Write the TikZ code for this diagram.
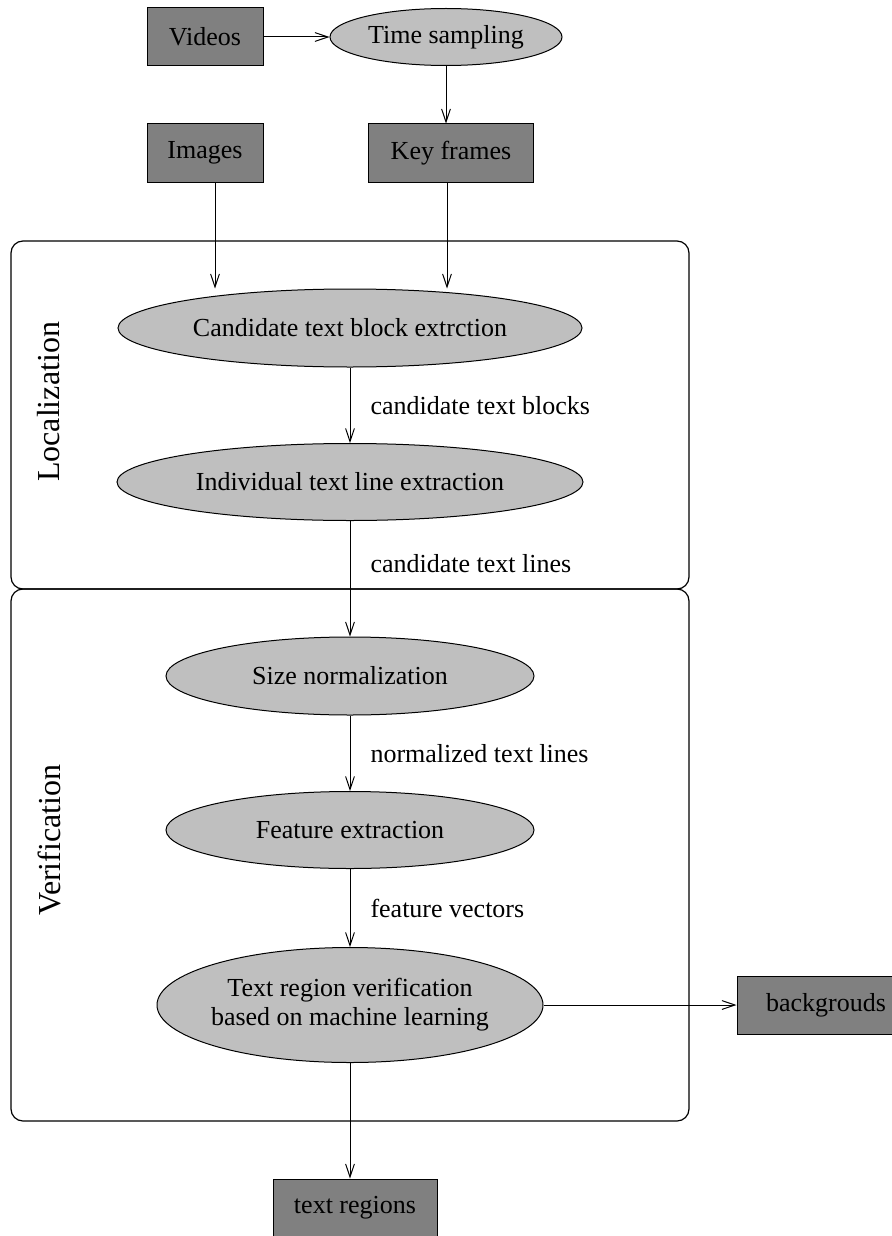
\documentclass[tikz,border=0pt]{standalone}
\usepackage{fontspec}
\setmainfont{Liberation Serif}
\usetikzlibrary{shapes.geometric,arrows.meta}
\definecolor{boxgray}{HTML}{808080}
\definecolor{ellgray}{HTML}{BFBFBF}
\begin{document}
\begin{tikzpicture}[x=0.5pt,y=-0.5pt,
  every node/.style={font=\fontsize{13}{14.5}\selectfont},
  databox/.style={draw=black, fill=boxgray, line width=0.5pt, minimum height=29pt, inner sep=0pt},
  process/.style={ellipse, draw=black, fill=ellgray, line width=0.5pt, inner sep=0pt},
  frame/.style={draw=black, rounded corners=6pt, line width=0.6pt, inner sep=0pt},
  arr/.style={-{Straight Barb[length=6.5pt,width=4.4pt]}, line width=0.5pt},
  flowlabel/.style={anchor=west, inner sep=0pt, xshift=10pt},
  stage/.style={rotate=90, font=\fontsize{16}{19}\selectfont, inner sep=0pt}
]
\useasboundingbox (0,0) rectangle (892,1236);

% the two stage frames
\node[frame, minimum width=339pt, minimum height=174pt] (locframe) at (350,415) {};
\node[frame, minimum width=339pt, minimum height=266pt] (verframe) at (350,855) {};
\node[stage] (loclabel) at (49,402) {Localization};
\node[stage] (verlabel) at (49,840) {Verification};

% inputs
\node[databox, minimum width=58pt] (videos) at (205,37) {Videos};
\node[process, minimum width=116pt, minimum height=28.5pt] (timesamp) at (446,37) {Time sampling};
\node[databox, minimum width=58pt] (images) at (205,153) {Images};
\node[databox, minimum width=82.5pt] (keyframes) at (451,153) {Key frames};

% processing steps
\node[process, minimum width=232pt, minimum height=39pt] (cand) at (350,328) {Candidate text block extrction};
\node[process, minimum width=233pt, minimum height=38.5pt] (indiv) at (350,482) {Individual text line extraction};
\node[process, minimum width=184pt, minimum height=39pt] (sizenorm) at (350,676) {Size normalization};
\node[process, minimum width=184pt, minimum height=38.5pt] (feat) at (350,830) {Feature extraction};
\node[process, minimum width=193pt, minimum height=57.5pt, align=center, inner xsep=-2pt] (verif) at (350,1005) {Text region verification\\based on machine learning};

% outputs
\node[databox, minimum width=89pt] (backg) at (826,1005) {backgrouds};
\node[databox, minimum width=82pt] (textreg) at (355,1208) {text regions};

% connectors
\draw[arr] (videos) -- (timesamp);
\draw[arr] (timesamp) -- (timesamp |- keyframes.north);
\draw[arr] ([xshift=5pt]images.south) -- ([xshift=5pt]images.south |- cand.north);
\draw[arr] ([xshift=-2pt]keyframes.south) -- ([xshift=-2pt]keyframes.south |- cand.north);
\draw[arr] (cand.south) -- node[flowlabel] {candidate text blocks} (indiv.north);
\draw[arr] (indiv.south) -- node[flowlabel, pos=0.37] {candidate text lines} (sizenorm.north);
\draw[arr] (sizenorm.south) -- node[flowlabel] {normalized text lines} (feat.north);
\draw[arr] (feat.south) -- node[flowlabel] {feature vectors} (verif.north);
\draw[arr] (verif.east) -- (backg.west);
\draw[arr] (verif.south) -- (verif.south |- textreg.north);
\end{tikzpicture}
\end{document}
